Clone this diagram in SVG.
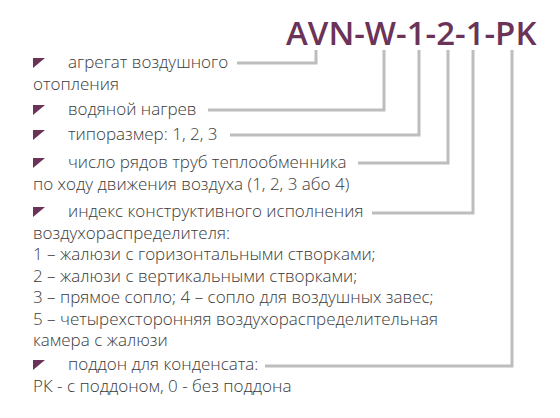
<svg xmlns="http://www.w3.org/2000/svg" width="560" height="418" viewBox="0 0 560 418">
<style>
.t{font-family:"Open Sans","Noto Sans",sans-serif;font-size:17px;font-weight:300;fill:#3a3a3a}
.title{font-family:"Open Sans","Noto Sans",sans-serif;font-size:33px;font-weight:600;fill:#6b3357}
.c{fill:none;stroke:#bdbdbd;stroke-width:3}
.b{fill:#6b3357}
</style>
<defs>
<polygon id="tri" class="b" points="0,0 12,0 0,10"/>
</defs>
<rect width="560" height="418" fill="#fff"/>
<g id="title"><text class="title" x="286" y="45">AVN-W-1-2-1-PK</text></g>
<g id="connectors">
<path class="c" d="M237,63 H316 V50"/>
<path class="c" d="M208,110 H384 V50"/>
<path class="c" d="M230,135 H419 V50"/>
<path class="c" d="M358,163 H448 V50"/>
<path class="c" d="M372,213 H473 V50"/>
<path class="c" d="M265,366 H512 V50"/>
</g>
<g id="n1"><use href="#tri" x="33" y="58"/><text class="t" x="68" y="68">агрегат воздушного</text><text class="t" x="33" y="89.5">отопления</text></g>
<g id="n2"><use href="#tri" x="33" y="105"/><text class="t" x="68" y="115">водяной нагрев</text></g>
<g id="n3"><use href="#tri" x="33" y="130"/><text class="t" x="68" y="140">типоразмер: 1, 2, 3</text></g>
<g id="n4"><use href="#tri" x="33" y="158"/><text class="t" x="68" y="168">число рядов труб теплообменника</text><text class="t" x="33" y="189.5">по ходу движения воздуха (1, 2, 3 або 4)</text></g>
<g id="n5"><use href="#tri" x="33" y="207"/><text class="t" x="68" y="217">индекс конструктивного исполнения</text><text class="t" x="33" y="238.5">воздухораспределителя:</text><text class="t" x="33" y="260">1 – жалюзи с горизонтальными створками;</text><text class="t" x="33" y="281.5">2 – жалюзи с вертикальными створками;</text><text class="t" x="33" y="303">3 – прямое сопло; 4 – сопло для воздушных завес;</text><text class="t" x="33" y="324.5">5 – четырехсторонняя воздухораспределительная</text><text class="t" x="33" y="346">камера с жалюзи</text></g>
<g id="n6"><use href="#tri" x="33" y="360"/><text class="t" x="68" y="370">поддон для конденсата:</text><text class="t" x="33" y="392">РК - с поддоном, 0 - без поддона</text></g>
</svg>
